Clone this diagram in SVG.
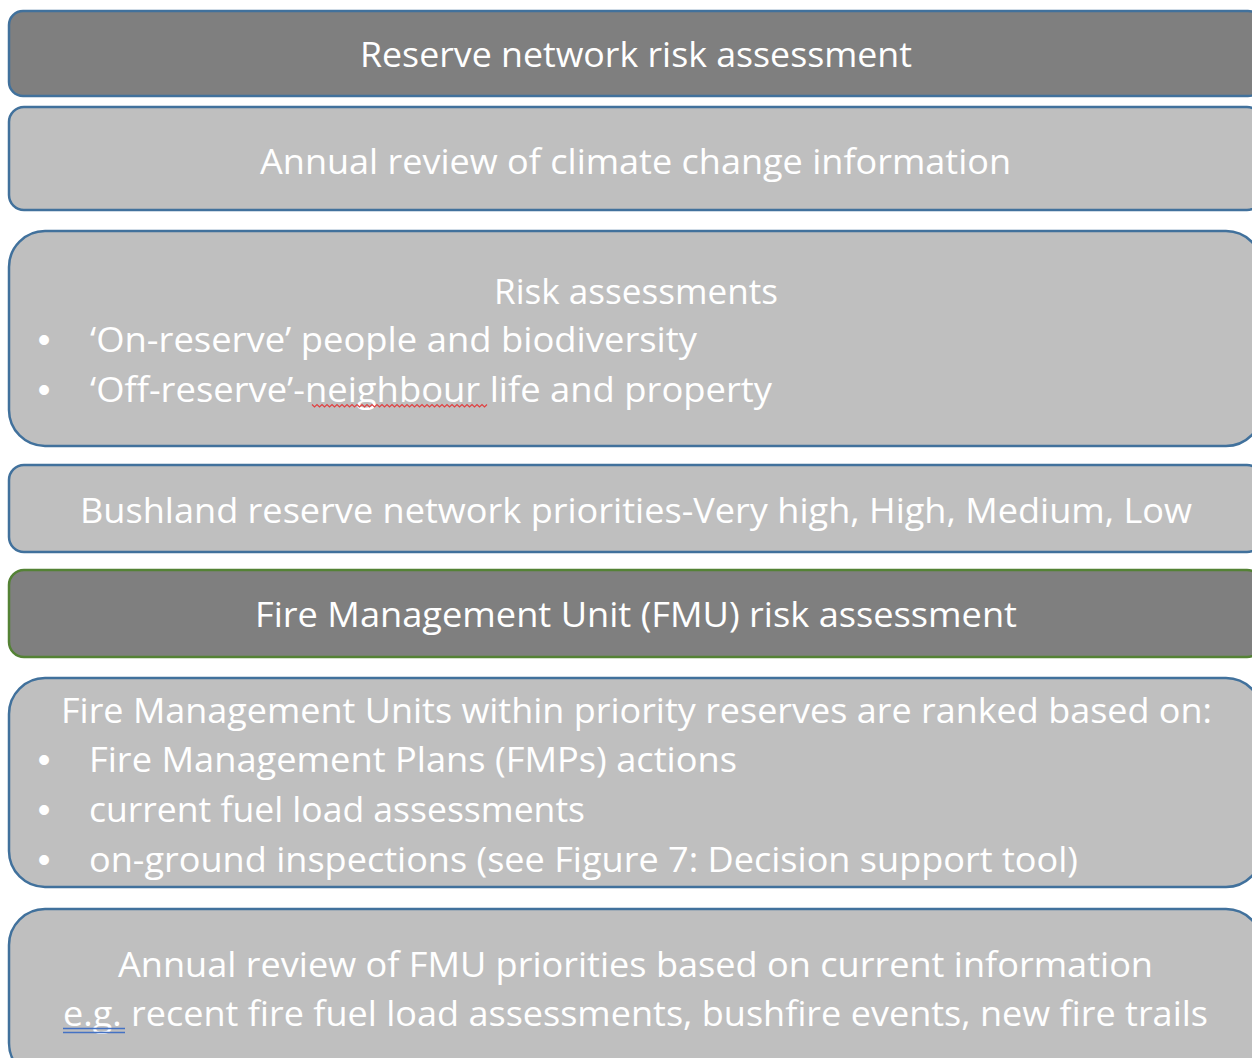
<svg xmlns="http://www.w3.org/2000/svg" width="1252" height="1058" viewBox="0 0 1252 1058">
<style>
.box{stroke:#41719c;stroke-width:2.5}
.dark{fill:#7f7f7f}
.light{fill:#bfbfbf}
.green{stroke:#548235}
text{font-family:"Open Sans","Noto Sans","Liberation Sans",sans-serif;font-size:34px;fill:#ffffff}
text.b{text-anchor:middle;font-family:"Liberation Sans",Arial,sans-serif;font-size:36px}
</style>
<rect width="1252" height="1058" fill="#ffffff"/>
<g id="node1">
<rect class="box dark" x="9" y="11" width="1253" height="85" rx="14"/>
<text x="360" y="67" textLength="552" lengthAdjust="spacingAndGlyphs">Reserve network risk assessment</text>
</g>
<g id="node2">
<rect class="box light" x="9" y="107" width="1253" height="103" rx="15"/>
<text x="260" y="174" textLength="751" lengthAdjust="spacingAndGlyphs">Annual review of climate change information</text>
</g>
<g id="node3">
<rect class="box light" x="9" y="231" width="1253" height="215" rx="36"/>
<text x="494" y="304" textLength="284" lengthAdjust="spacingAndGlyphs">Risk assessments</text>
<text class="b" x="44" y="352">•</text>
<text x="90" y="352" textLength="607" lengthAdjust="spacingAndGlyphs">‘On-reserve’ people and biodiversity</text>
<text class="b" x="44" y="402">•</text>
<text x="90" y="402" textLength="682" lengthAdjust="spacingAndGlyphs">‘Off-reserve’-neighbour life and property</text>
<path d="M312 404.5 l2.5 2.5 2.5 -2.5 l2.5 2.5 2.5 -2.5 l2.5 2.5 2.5 -2.5 l2.5 2.5 2.5 -2.5 l2.5 2.5 2.5 -2.5 l2.5 2.5 2.5 -2.5 l2.5 2.5 2.5 -2.5 l2.5 2.5 2.5 -2.5 l2.5 2.5 2.5 -2.5 l2.5 2.5 2.5 -2.5 l2.5 2.5 2.5 -2.5 l2.5 2.5 2.5 -2.5 l2.5 2.5 2.5 -2.5 l2.5 2.5 2.5 -2.5 l2.5 2.5 2.5 -2.5 l2.5 2.5 2.5 -2.5 l2.5 2.5 2.5 -2.5 l2.5 2.5 2.5 -2.5 l2.5 2.5 2.5 -2.5 l2.5 2.5 2.5 -2.5 l2.5 2.5 2.5 -2.5 l2.5 2.5 2.5 -2.5 l2.5 2.5 2.5 -2.5 l2.5 2.5 2.5 -2.5 l2.5 2.5 2.5 -2.5 l2.5 2.5 2.5 -2.5 l2.5 2.5 2.5 -2.5 l2.5 2.5 2.5 -2.5 l2.5 2.5 2.5 -2.5 l2.5 2.5 2.5 -2.5 l2.5 2.5 2.5 -2.5 l2.5 2.5 2.5 -2.5 l2.5 2.5 2.5 -2.5 l2.5 2.5 2.5 -2.5 l2.5 2.5 2.5 -2.5" fill="none" stroke="#e04040" stroke-width="1.2"/>
</g>
<g id="node4">
<rect class="box light" x="9" y="465" width="1253" height="87" rx="15"/>
<text x="80" y="523" textLength="1112" lengthAdjust="spacingAndGlyphs">Bushland reserve network priorities-Very high, High, Medium, Low</text>
</g>
<g id="node5">
<rect class="box dark green" x="9" y="570" width="1253" height="87" rx="15"/>
<text x="255" y="627" textLength="762" lengthAdjust="spacingAndGlyphs">Fire Management Unit (FMU) risk assessment</text>
</g>
<g id="node6">
<rect class="box light" x="9" y="678" width="1253" height="209" rx="36"/>
<text x="61" y="723" textLength="1151" lengthAdjust="spacingAndGlyphs">Fire Management Units within priority reserves are ranked based on:</text>
<text class="b" x="44" y="772">•</text>
<text x="89" y="772" textLength="648" lengthAdjust="spacingAndGlyphs">Fire Management Plans (FMPs) actions</text>
<text class="b" x="44" y="822">•</text>
<text x="89" y="822" textLength="496" lengthAdjust="spacingAndGlyphs">current fuel load assessments</text>
<text class="b" x="44" y="872">•</text>
<text x="89" y="872" textLength="989" lengthAdjust="spacingAndGlyphs">on-ground inspections (see Figure 7: Decision support tool)</text>
</g>
<g id="node7">
<rect class="box light" x="9" y="909" width="1253" height="170" rx="36"/>
<text x="118" y="977" textLength="1035" lengthAdjust="spacingAndGlyphs">Annual review of FMU priorities based on current information</text>
<text x="63" y="1026" textLength="1145" lengthAdjust="spacingAndGlyphs">e.g. recent fire fuel load assessments, bushfire events, new fire trails</text>
<path d="M63 1028.5 H125 M63 1032.5 H125" stroke="#4472c4" stroke-width="1.3" fill="none"/>
</g>
<g id="connectors"/>
</svg>
